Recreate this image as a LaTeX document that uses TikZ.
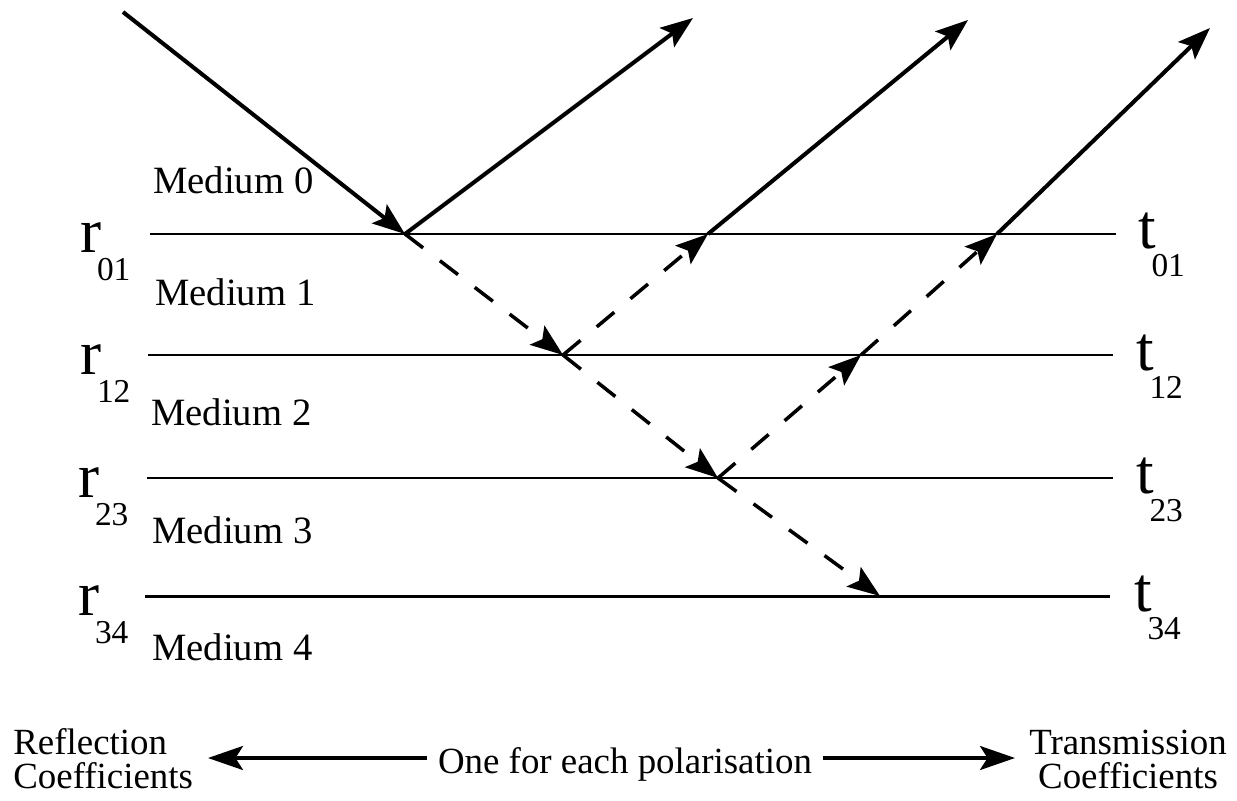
\documentclass[tikz,border=0pt]{standalone}
\usepackage{fontspec}
\setmainfont{Liberation Serif}
\usetikzlibrary{arrows.meta}

\newcommand{\coef}[2]{{\fontsize{36}{36}\selectfont #1}\kern-2.5pt{\fontsize{19}{19}\selectfont\raisebox{-16pt}{#2}}}

\begin{document}
\begin{tikzpicture}[x=0.02cm, y=-0.02cm,
    iface/.style={line width=1.7pt},
    ray/.style={line width=2.3pt, -{Stealth[length=6.5mm, width=4.8mm, inset=1.3mm]}},
    wave/.style={ray, dash pattern=on 13pt off 12pt, line width=2pt},
    medium/.style={anchor=base west, inner sep=0, font=\fontsize{22}{25}\selectfont},
    coeflabel/.style={anchor=base west, inner sep=0},
    bottomtext/.style={inner sep=0, font=\fontsize{21}{19}\selectfont},
    bigarrow/.style={line width=2pt, -{Stealth[length=7mm, width=4.8mm, inset=1.5mm]}}]
    \useasboundingbox (0,0) rectangle (1237,801);

    % interfaces
    \coordinate (l1w) at (150,234); \coordinate (l1e) at (1116,234);
    \coordinate (l2w) at (148,355); \coordinate (l2e) at (1113,355);
    \coordinate (l3w) at (147,478); \coordinate (l3e) at (1113,478);
    \coordinate (l4w) at (145,596); \coordinate (l4e) at (1110,596);
    \draw[iface] (l1w) -- (l1e);
    \draw[iface] (l2w) -- (l2e);
    \draw[iface] (l3w) -- (l3e);
    \draw[iface] (l4w) -- (l4e);

    % media
    \node[medium] (med0) at (153,193) {Medium 0};
    \node[medium] (med1) at (155,305) {Medium 1};
    \node[medium] (med2) at (151,425) {Medium 2};
    \node[medium] (med3) at (152,543) {Medium 3};
    \node[medium] (med4) at (152,660) {Medium 4};

    % coefficients
    \node[coeflabel] (r01) at (80,252) {\coef{r}{01}};
    \node[coeflabel] (r12) at (80,374) {\coef{r}{12}};
    \node[coeflabel] (r23) at (78,497) {\coef{r}{23}};
    \node[coeflabel] (r34) at (78,615) {\coef{r}{34}};
    \node[coeflabel] (t01) at (1138,248) {\coef{t}{01}};
    \node[coeflabel] (t12) at (1136,370) {\coef{t}{12}};
    \node[coeflabel] (t23) at (1136,493) {\coef{t}{23}};
    \node[coeflabel] (t34) at (1134,611) {\coef{t}{34}};

    % ray points
    \coordinate (src) at (123,12);
    \coordinate (A) at (405,234);
    \coordinate (B) at (563,355);
    \coordinate (C) at (718,478);
    \coordinate (D) at (880,596);
    \coordinate (E) at (708,234);
    \coordinate (F) at (861,355);
    \coordinate (G) at (997,234);
    \coordinate (outA) at (693,18);
    \coordinate (outE) at (968,20);
    \coordinate (outG) at (1210,28);

    \draw[ray] (src) -- (A);
    \draw[ray] (A) -- (outA);
    \draw[wave] (A) -- (B);
    \draw[wave] (B) -- (C);
    \draw[wave] (C) -- (D);
    \draw[wave] (B) -- (E);
    \draw[ray] (E) -- (outE);
    \draw[wave] (C) -- (F);
    \draw[wave] (F) -- (G);
    \draw[ray] (G) -- (outG);

    % legend
    \node[bottomtext, anchor=base west, align=left] (refl) at (13,788) {Reflection\\Coefficients};
    \node[bottomtext, anchor=base, align=center] (trans) at (1128,788) {Transmission\\Coefficients};
    \node[bottomtext, anchor=base, inner xsep=6pt] (pol) at (625,773) {One for each polarisation};
    \coordinate (lt) at (208,758);
    \coordinate (rt) at (1015,758);
    \draw[bigarrow] (pol.west |- lt) -- (lt);
    \draw[bigarrow] (pol.east |- rt) -- (rt);
\end{tikzpicture}
\end{document}
